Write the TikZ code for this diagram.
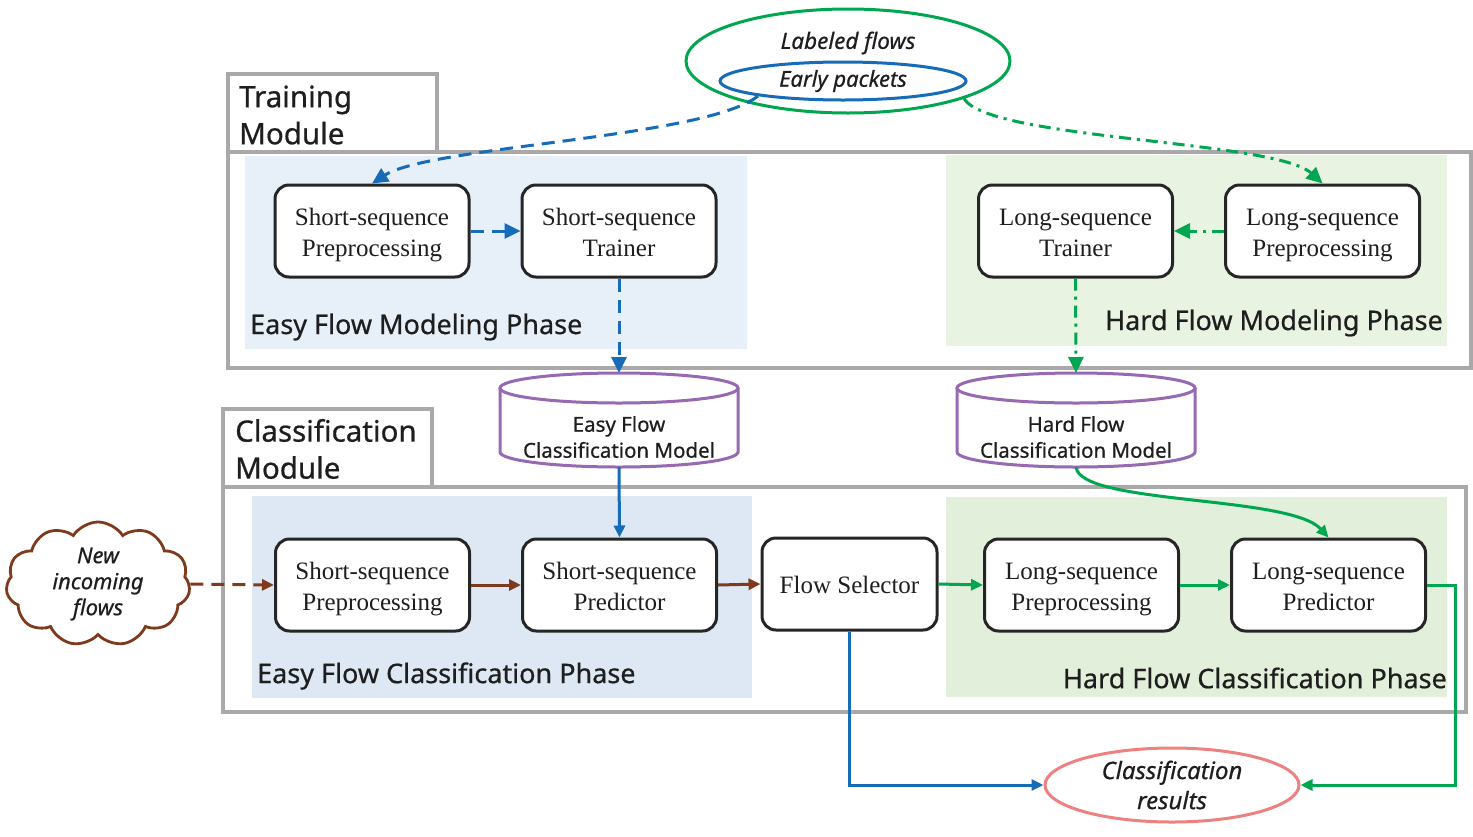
\documentclass[tikz,border=0pt]{standalone}
\usepackage{fontspec}
\setmainfont{Liberation Serif}
\newfontfamily\lab[RawFeature={embolden=0.6}]{Noto Sans}
\usetikzlibrary{arrows.meta,shapes.symbols,shapes.geometric}
\definecolor{myblue}{RGB}{23,108,183}
\definecolor{mygreen}{RGB}{0,166,80}
\definecolor{mybrown}{RGB}{125,58,28}
\definecolor{mypurple}{RGB}{150,105,178}
\definecolor{mypink}{RGB}{238,128,128}
\definecolor{framegrey}{RGB}{170,168,168}
\definecolor{bgblueA}{RGB}{231,239,248}
\definecolor{bgblueB}{RGB}{221,232,244}
\definecolor{bggreenA}{RGB}{232,243,226}
\definecolor{bggreenB}{RGB}{226,239,218}
\definecolor{txt}{RGB}{30,30,30}
\begin{document}
\begin{tikzpicture}[x=1pt,y=-1pt,
  proc/.style={draw=black!85, line width=3pt, rounded corners=14pt, fill=white,
    minimum width=194pt, minimum height=92pt, align=center, inner sep=0pt,
    text height=50pt, text depth=0pt, text=txt,
    font=\fontsize{25}{31}\selectfont},
  frame/.style={draw=framegrey, line width=4pt},
  phase/.style={font=\lab\fontsize{27}{31}\selectfont, inner sep=0pt, text=txt},
  header/.style={font=\lab\fontsize{29.5}{37}\selectfont, align=left, inner sep=0pt, anchor=west, text=txt},
  cyl/.style={draw=mypurple, line width=3pt, fill=white},
  cyltext/.style={font=\lab\fontsize{20.5}{26}\selectfont, align=center, inner sep=0pt, text=txt},
  arr/.style={line width=3pt, -{Triangle[length=16pt,width=15pt]}},
  sarr/.style={line width=3pt, -{Triangle[length=12pt,width=11pt]}},
  dsh/.style={dash pattern=on 13pt off 8pt},
  dshdot/.style={dash pattern=on 12pt off 6pt on 3pt off 6pt}
]
\useasboundingbox (0,0) rectangle (1473,836);
\fill[white] (0,0) rectangle (1473,836);

% frames
\draw[frame] (228,74) rectangle (437,152);
\draw[frame] (228,152) rectangle (1471,368);
\draw[frame] (223,409) rectangle (432,487);
\draw[frame] (223,487) rectangle (1466,712);

% phase backgrounds
\fill[bgblueA] (245,156) rectangle (747,349);
\fill[bggreenA] (946,155) rectangle (1447,346);
\fill[bgblueB] (252,496) rectangle (752,698);
\fill[bggreenB] (946,497) rectangle (1447,697);

% headers
\node[header] (trainhdr) at (239,115) {Training\\Module};
\node[header] (classhdr) at (235,449) {Classification\\Module};

% phase labels
\node[phase, anchor=west] (easymod) at (250,327) {Easy Flow Modeling Phase};
\node[phase, anchor=east] (hardmod) at (1443,323) {Hard Flow Modeling Phase};
\node[phase, anchor=west] (easycls) at (257,676) {Easy Flow Classification Phase};
\node[phase, anchor=east] (hardcls) at (1447,678) {Hard Flow Classification Phase};

% top ellipses
\node[ellipse, draw=mygreen, line width=3pt, minimum width=324pt, minimum height=104pt, inner sep=0pt] (labeled) at (848,61) {};
\node[font=\lab\itshape\fontsize{22.5}{26}\selectfont, inner sep=0pt, text=txt] (labeledtxt) at (848,43) {Labeled flows};
\node[ellipse, draw=myblue, line width=3pt, minimum width=246pt, minimum height=38pt, inner sep=0pt, text=txt,
      font=\lab\itshape\fontsize{22}{26}\selectfont] (early) at (843,81) {Early packets};

% training boxes
\node[proc] (sprep) at (372,231) {Short-sequence\\Preprocessing};
\node[proc] (strain) at (619,231) {Short-sequence\\Trainer};
\node[proc] (ltrain) at (1075.5,231) {Long-sequence\\Trainer};
\node[proc] (lprep) at (1322.5,231) {Long-sequence\\Preprocessing};

% cylinders
\draw[cyl] (500,388) -- (500,452) arc[start angle=180, end angle=0, x radius=119, y radius=15] -- (738,388);
\draw[cyl] (619,388) ellipse [x radius=119, y radius=15];
\coordinate (easytop) at (619,373);
\coordinate (easybot) at (619,467);
\node[cyltext] (easycyl) at (619,437) {Easy Flow\\Classification Model};

\draw[cyl] (957,388) -- (957,452) arc[start angle=180, end angle=0, x radius=119, y radius=15] -- (1195,388);
\draw[cyl] (1076,388) ellipse [x radius=119, y radius=15];
\coordinate (hardtop) at (1076,373);
\coordinate (hardbot) at (1076,467);
\node[cyltext] (hardcyl) at (1076,437) {Hard Flow\\Classification Model};

% classification boxes
\node[proc] (cprep) at (372.5,585) {Short-sequence\\Preprocessing};
\node[proc] (spred) at (619.5,585) {Short-sequence\\Predictor};
\node[proc, minimum width=175pt, text height=20pt, text depth=2pt] (sel) at (849.5,584) {Flow Selector};
\node[proc] (clprep) at (1081.5,585) {Long-sequence\\Preprocessing};
\node[proc] (lpred) at (1328.5,585) {Long-sequence\\Predictor};

% cloud
\node[cloud, draw=mybrown, line width=2.8pt, cloud puffs=11, cloud puff arc=115, aspect=1.45,
      minimum width=184pt, minimum height=124pt, inner sep=0pt, align=center, text=txt,
      font=\lab\itshape\fontsize{22}{26}\selectfont] (newflows) at (98,584) {New\\incoming\\flows};

% results
\node[ellipse, draw=mypink, line width=3pt, minimum width=254pt, minimum height=74pt, inner sep=0pt,
      align=center, text=txt, font=\lab\itshape\fontsize{24}{30}\selectfont] (res) at (1172,785) {Classification\\results};

% training arrows
\draw[arr, dsh, myblue] (early.190) .. controls (705,138) and (430,146) .. (sprep.north);
\draw[arr, dsh, myblue] (sprep.east) -- (strain.west);
\draw[arr, dsh, myblue] (strain.south) -- (easytop);
\draw[arr, dshdot, mygreen] (labeled.-18) .. controls (990,140) and (1275,140) .. (lprep.north);
\draw[arr, dshdot, mygreen] (lprep.west) -- (ltrain.east);
\draw[arr, dshdot, mygreen] (ltrain.south) -- (hardtop);

% model arrows
\draw[sarr, myblue] (easybot) -- (spred.north);
\draw[sarr, mygreen] (hardbot) .. controls (1080,505) and (1290,495) .. (lpred.north);

% classification arrows
\draw[sarr, dsh, mybrown] (newflows.east) -- (cprep.west);
\draw[sarr, mybrown] (cprep.east) -- (spred.west);
\draw[sarr, mybrown] (spred.east) -- (sel.west);
\draw[sarr, mygreen] (sel.east) -- (clprep.west);
\draw[sarr, mygreen] (clprep.east) -- (lpred.west);
\draw[sarr, myblue] (sel.south) |- (res.west);
\draw[sarr, mygreen] (lpred.east) -- ++(28,0) |- (res.east);
\end{tikzpicture}
\end{document}
